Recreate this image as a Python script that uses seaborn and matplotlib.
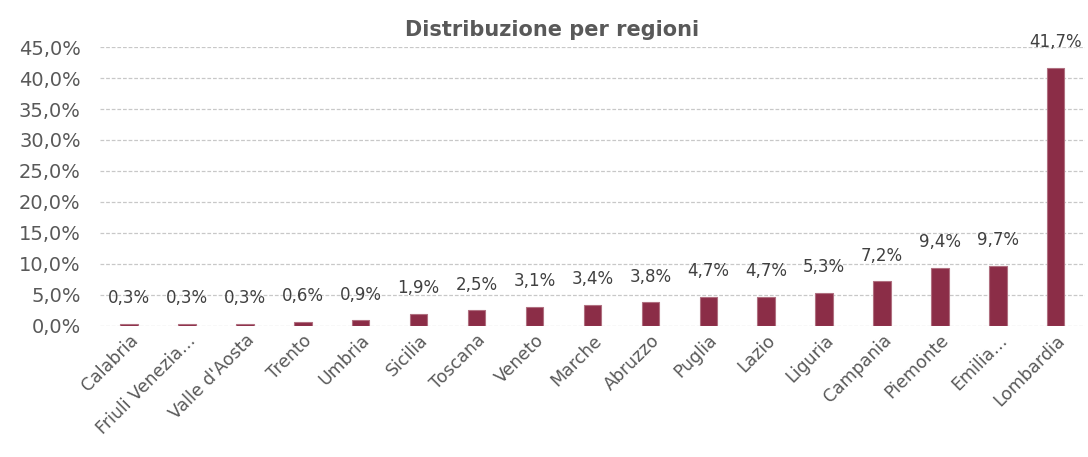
import matplotlib
matplotlib.use("Agg")
import matplotlib.pyplot as plt
import seaborn as sns
import pandas as pd
from matplotlib.ticker import FuncFormatter, MultipleLocator

regions = ["Calabria", "Friuli Venezia…", "Valle d'Aosta", "Trento", "Umbria", "Sicilia",
           "Toscana", "Veneto", "Marche", "Abruzzo", "Puglia", "Lazio", "Liguria",
           "Campania", "Piemonte", "Emilia…", "Lombardia"]
values = [0.3, 0.3, 0.3, 0.6, 0.9, 1.9, 2.5, 3.1, 3.4, 3.8, 4.7, 4.7, 5.3, 7.2, 9.4, 9.7, 41.7]

df = pd.DataFrame({"regione": regions, "valore": values})

sns.set_theme(style="white")
plt.rcParams['font.family'] = ['DejaVu Sans']

fig = plt.figure(figsize=(10.88, 4.57), dpi=100)
ax = fig.add_axes([0.092, 0.287, 0.905, 0.61])

sns.barplot(data=df, x="regione", y="valore", color="#8B2D47", width=0.3,
            saturation=1, edgecolor="#B07080", linewidth=0.8, ax=ax, zorder=3)

ax.set_ylim(0, 45)
ax.yaxis.set_major_locator(MultipleLocator(5))
ax.yaxis.set_major_formatter(FuncFormatter(lambda v, p: f"{v:.1f}%".replace(".", ",")))
ax.grid(axis="y", color="#C8C8C8", linestyle=(0, (3, 1.5)), linewidth=0.9, zorder=0)
for s in ax.spines.values():
    s.set_visible(False)
ax.set_xlabel("")
ax.set_ylabel("")
ax.tick_params(axis="y", labelsize=14, colors="#595959", length=0, pad=14)
ax.tick_params(axis="x", labelsize=12.5, colors="#595959", length=0, pad=4)
plt.setp(ax.get_xticklabels(), rotation=45, ha="right", rotation_mode="anchor")
ax.set_xlim(-0.5, len(regions) - 0.5)

for i, v in enumerate(values):
    ax.annotate(f"{v:.1f}%".replace(".", ","), (i, v), xytext=(0, 12),
                textcoords="offset points", ha="center", va="bottom",
                fontsize=12, color="#404040", clip_on=False)

fig.text(0.507, 0.935, "Distribuzione per regioni", fontsize=15, fontweight="bold",
         color="#595959", ha="center", va="center")

fig.savefig("out.png", dpi=100)
